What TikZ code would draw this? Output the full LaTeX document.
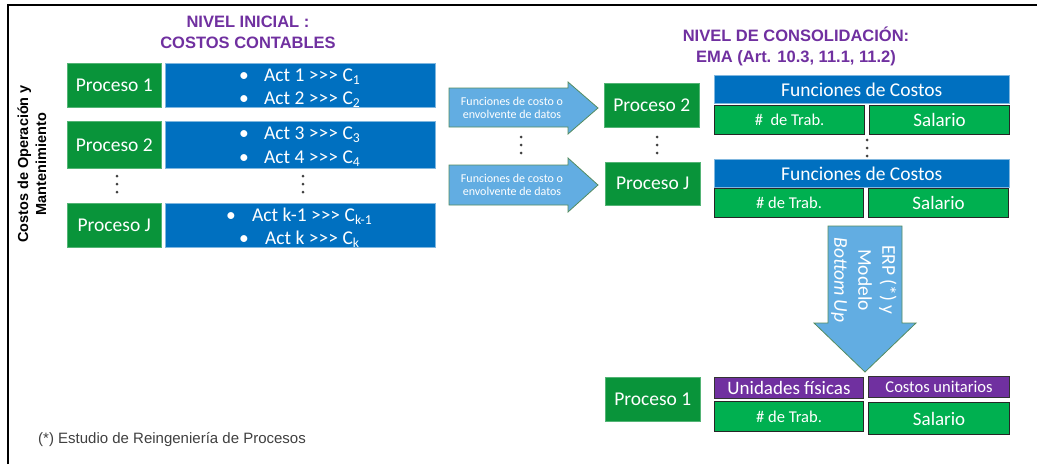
\documentclass[tikz,border=0pt]{standalone}
\usepackage{fontspec}
\setmainfont{Carlito}
\newfontfamily\arialfont{Liberation Sans}
\definecolor{pgreen}{RGB}{9,148,58}
\definecolor{lgreen}{RGB}{0,176,80}
\definecolor{mblue}{RGB}{0,112,192}
\definecolor{ablue}{RGB}{98,173,226}
\definecolor{aedge}{RGB}{84,140,96}
\definecolor{mpurple}{RGB}{112,48,160}
\definecolor{dotgray}{RGB}{64,64,64}
\tikzset{
  box/.style={inner sep=0pt, anchor=north west, text=white},
  proc/.style={box, fill=pgreen, draw=pgreen!70!white, line width=0.6pt, font=\fontsize{19.5}{21}\selectfont},
  blu/.style={box, fill=mblue, draw=mblue!50!white, line width=0.6pt, font=\fontsize{19.5}{21}\selectfont},
  lg/.style={box, fill=lgreen, draw=black!85, line width=1.2pt},
  pur/.style={box, fill=mpurple, draw=black!80, line width=1pt},
  acttxt/.style={anchor=base west, inner sep=0pt, text=white, font=\fontsize{19.5}{21}\selectfont},
  arr/.style={fill=ablue, draw=aedge, line width=0.8pt},
  arrtxt/.style={text=white, align=center, inner sep=0pt, font=\fontsize{12}{13.5}\selectfont},
  ttl/.style={text=mpurple, align=center, inner sep=0pt, font=\arialfont\bfseries\fontsize{16.5}{21}\selectfont},
  vdot/.style={fill=dotgray, draw=none, circle, inner sep=0pt, minimum size=3pt},
}
\newcommand{\vdotsat}[2]{%
  \node[vdot] at (#1,#2) {};
  \node[vdot] at (#1,#2+8) {};
  \node[vdot] at (#1,#2+16) {};}
\begin{document}
\begin{tikzpicture}[x=1pt,y=-1pt]
\useasboundingbox (0,0) rectangle (1037,464);
\fill[white] (0,0) rectangle (1037,464);
% frame
\draw[line width=2pt] (8,464) -- (8,5) -- (1037,5);

% titles
\node[ttl] (t1) at (248,32) {NIVEL INICIAL :\\COSTOS CONTABLES};
\node[ttl] (t2) at (796,46) {NIVEL DE CONSOLIDACIÓN:\\EMA (Art. 10.3, 11.1, 11.2)};

% vertical label
\node[rotate=90, align=center, inner sep=0pt, font=\arialfont\bfseries\fontsize{14.5}{18}\selectfont] (vl) at (32,164) {Costos de Operación y\\Mantenimiento};

% left column
\node[proc, minimum width=94, minimum height=44] (p1) at (67,63) {Proceso 1};
\node[blu, minimum width=270, minimum height=44] (b1) at (165,63) {};
\node[proc, minimum width=94, minimum height=47] (p2) at (67,121) {Proceso 2};
\node[blu, minimum width=270, minimum height=47] (b2) at (165,121) {};
\node[proc, minimum width=94, minimum height=44] (pj) at (67,203) {Proceso J};
\node[blu, minimum width=270, minimum height=44] (bj) at (165,203) {};

\node[acttxt] (a1b) at (239,81) {•};
\node[acttxt] (a1) at (264,81) {Act 1 >{}>{}> C\textsubscript{1}};
\node[acttxt] (a2b) at (239,104) {•};
\node[acttxt] (a2) at (264,104) {Act 2 >{}>{}> C\textsubscript{2}};
\node[acttxt] (a3b) at (239,139) {•};
\node[acttxt] (a3) at (264,139) {Act 3 >{}>{}> C\textsubscript{3}};
\node[acttxt] (a4b) at (239,163) {•};
\node[acttxt] (a4) at (264,163) {Act 4 >{}>{}> C\textsubscript{4}};
\node[acttxt] (akb) at (226,221) {•};
\node[acttxt] (ak) at (252,221) {Act k-1 >{}>{}> C\textsubscript{k-1}};
\node[acttxt] (alb) at (239,244) {•};
\node[acttxt] (al) at (265,244) {Act k >{}>{}> C\textsubscript{k}};

\vdotsat{117}{176}
\vdotsat{303}{176}

% middle arrows
\draw[arr] (449,88) -- (568,88) -- (568,82) -- (598,108) -- (568,134) -- (568,127) -- (449,127) -- cycle;
\node[arrtxt] (f1) at (512,108) {Funciones de costo o\\envolvente de datos};
\draw[arr] (449,165) -- (568,165) -- (568,158) -- (598,185) -- (568,212) -- (568,205) -- (449,205) -- cycle;
\node[arrtxt] (f2) at (512,185) {Funciones de costo o\\envolvente de datos};
\vdotsat{521}{137}

\node[proc, minimum width=95, minimum height=44] (m2) at (604,83) {Proceso 2};
\node[proc, minimum width=95, minimum height=43] (mj) at (605,162) {Proceso J};
\vdotsat{657}{137}

% right blocks
\node[blu, minimum width=295, minimum height=28] (fc1) at (714,75) {Funciones de Costos};
\node[lg, minimum width=150, minimum height=29, font=\fontsize{16.5}{18}\selectfont] (n1) at (714,105) {\#\ \ de Trab.};
\node[lg, minimum width=140, minimum height=29, font=\fontsize{19}{20}\selectfont] (s1) at (869,105) {Salario};
\vdotsat{867}{140}
\node[blu, minimum width=295, minimum height=28] (fc2) at (714,159) {Funciones de Costos};
\node[lg, minimum width=149, minimum height=29, font=\fontsize{16.5}{18}\selectfont] (n2) at (714,188) {\# de Trab.};
\node[lg, minimum width=140, minimum height=29, font=\fontsize{19}{20}\selectfont] (s2) at (868,188) {Salario};

% big down arrow
\draw[arr] (828,226) -- (902,226) -- (902,323) -- (916,323) -- (865,372) -- (814,323) -- (828,323) -- cycle;
\node[rotate=-90, align=center, inner sep=0pt, text=white, font=\fontsize{19.5}{24}\selectfont] (erp) at (864,280) {ERP (*) y\\Modelo\\\textit{Bottom Up}};

% bottom row
\node[proc, minimum width=95, minimum height=44] (q1) at (605,377) {Proceso 1};
\node[pur, minimum width=149, minimum height=21, font=\fontsize{19}{20}\selectfont] (u1) at (714,377) {Unidades físicas};
\node[pur, minimum width=141, minimum height=21, font=\fontsize{16.5}{18}\selectfont] (c1) at (868,376) {Costos unitarios};
\node[lg, minimum width=149, minimum height=30, font=\fontsize{16.5}{18}\selectfont] (n3) at (714,401) {\# de Trab.};
\node[lg, minimum width=141, minimum height=32, font=\fontsize{19}{20}\selectfont] (s3) at (868,402) {Salario};

% footnote
\node[anchor=base west, inner sep=0pt, text=dotgray, font=\arialfont\fontsize{15}{17}\selectfont] (fn) at (38,443) {(*) Estudio de Reingeniería de Procesos};
\end{tikzpicture}
\end{document}
